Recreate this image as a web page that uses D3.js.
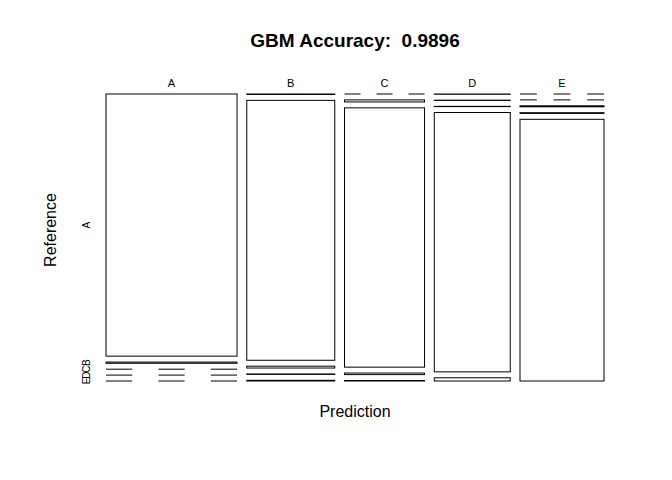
<!DOCTYPE html>
<html><head><meta charset="utf-8">
<script src="https://cdn.jsdelivr.net/npm/d3@7"></script>
<style>body{margin:0;background:#fff}svg{display:block}text{font-family:"Liberation Sans",Arial,sans-serif;white-space:pre}</style>
</head><body><svg id="c" width="672" height="480"></svg>
<script>
const predictions = ["A","B","C","D","E"];
const references = ["A","B","C","D","E"];
// counts[p][r]: prediction p, reference r
const countsA = [1672, 8, 0, 0, 0];
const countsB = [2, 1113, 8, 2, 3];
const countsC = [0, 8, 1010, 6, 2];
const countsD = [1, 1, 1, 959, 12];
const countsE = [0, 0, 4, 3, 1070];
const counts = [countsA, countsB, countsC, countsD, countsE];
const titleText = "GBM Accuracy:  0.9896";

const svg = d3.select("#c");
const L = 106, T = 94, W = 498, H = 287, gx = 9.75, gy = 5.9;
const colTot = counts.map(c => d3.sum(c));
const N = d3.sum(colTot);
const xs = d3.scaleLinear().domain([0, N]).range([0, W - gx*(predictions.length-1)]);

let x0 = L;
const cells = [];
predictions.forEach((p, i) => {
  const w = xs(colTot[i]);
  const ys = d3.scaleLinear().domain([0, colTot[i]]).range([0, H - gy*(references.length-1)]);
  let y0 = T;
  references.forEach((r, j) => {
    const h = ys(counts[i][j]);
    cells.push({p, r, i, j, x: x0, y: y0, w, h, v: counts[i][j]});
    y0 += h + gy;
  });
  svg.append("text").attr("x", x0 + w/2).attr("y", 87).attr("text-anchor","middle")
     .attr("font-size", 11).text(p);
  x0 += w + gx;
});

const g = svg.append("g");
cells.filter(d => d.v > 0).forEach(d => {
  g.append("rect").attr("x", d.x).attr("y", d.y).attr("width", d.w).attr("height", Math.max(d.h, 0.01))
   .attr("fill","#fff").attr("stroke","#000").attr("stroke-width",1);
});
cells.filter(d => d.v === 0).forEach(d => {
  g.append("line").attr("x1", d.x).attr("x2", d.x + d.w).attr("y1", d.y).attr("y2", d.y)
   .attr("stroke","#000").attr("stroke-width",1).attr("stroke-dasharray", `${d.w/5} ${d.w/5}`);
});

// row labels from first column
cells.filter(d => d.i === 0).forEach(d => {
  svg.append("text").attr("transform", `translate(90,${d.y + d.h/2}) rotate(-90)`)
     .attr("text-anchor","middle").attr("font-size", 10).text(d.r);
});

svg.append("text").attr("x", 355).attr("y", 47).attr("text-anchor","middle")
   .attr("font-size", 19).attr("font-weight","bold").attr("xml:space","preserve").text(titleText);
svg.append("text").attr("x", 355).attr("y", 417).attr("text-anchor","middle")
   .attr("font-size", 16).text("Prediction");
svg.append("text").attr("transform","translate(56,230) rotate(-90)").attr("text-anchor","middle")
   .attr("font-size", 16).text("Reference");
</script></body></html>
